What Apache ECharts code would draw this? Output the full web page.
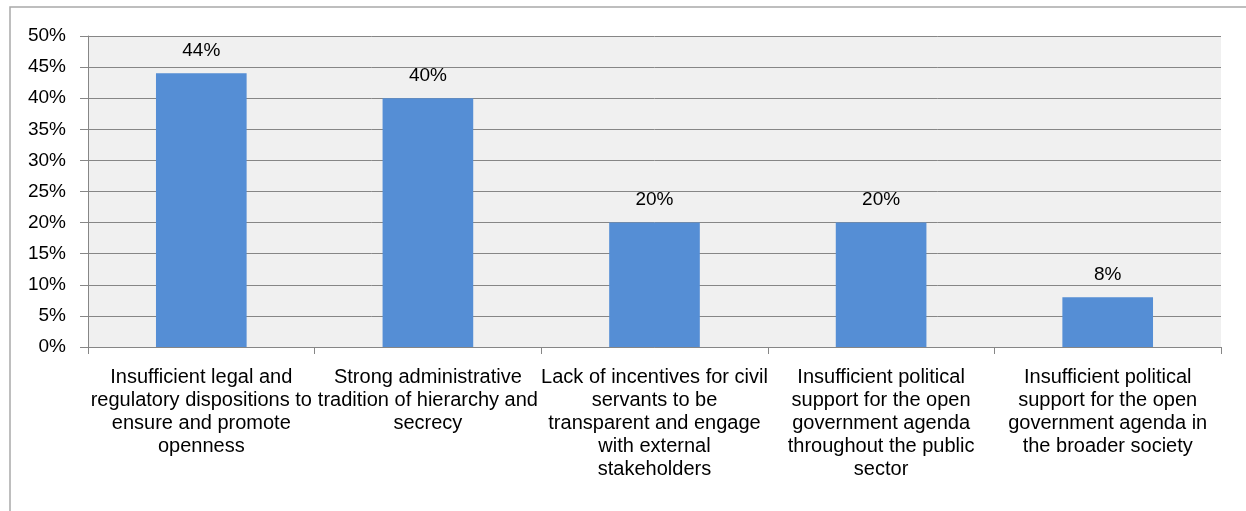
<!DOCTYPE html>
<html>
<head>
<meta charset="utf-8">
<script src="https://cdn.jsdelivr.net/npm/echarts@6/dist/echarts.min.js"></script>
<style>
  html, body { margin: 0; padding: 0; background: #fff; }
  #chart { width: 1246px; height: 511px; }
</style>
</head>
<body>
<div id="chart"></div>
<script>
// Chart data
var categories = [
  'Insufficient legal and\nregulatory dispositions to\nensure and promote\nopenness',
  'Strong administrative\ntradition of hierarchy and\nsecrecy',
  'Lack of incentives for civil\nservants to be\ntransparent and engage\nwith external\nstakeholders',
  'Insufficient political\nsupport for the open\ngovernment agenda\nthroughout the public\nsector',
  'Insufficient political\nsupport for the open\ngovernment agenda in\nthe broader society'
];
var values = [44, 40, 20, 20, 8];
var yTicks = [0, 5, 10, 15, 20, 25, 30, 35, 40, 45, 50];

var dom = document.getElementById('chart');
var chart = echarts.init(dom, null, {renderer: 'canvas'});

var font = '"Liberation Sans", Arial, sans-serif';

var option = {
  animation: false,
  textStyle: {fontFamily: font},
  graphic: [{
    type: 'rect',
    shape: {x: 10, y: 7, width: 1400, height: 700},
    style: {fill: 'none', stroke: '#a9a9a9', lineWidth: 1.5},
    silent: true
  }],
  grid: {
    left: 88, right: 25, top: 36, bottom: 164,
    show: true, backgroundColor: '#f0f0f0', borderWidth: 0
  },
  xAxis: {
    type: 'category',
    data: categories,
    axisLine: {lineStyle: {color: '#868686', width: 1}},
    axisTick: {show: true, length: 7, lineStyle: {color: '#868686'}},
    axisLabel: {
      interval: 0, color: '#000', fontSize: 20, lineHeight: 23,
      margin: 19, fontFamily: font
    }
  },
  yAxis: {
    type: 'value',
    min: yTicks[0], max: yTicks[yTicks.length - 1], interval: 5,
    axisLine: {show: true, lineStyle: {color: '#868686'}},
    axisTick: {show: true, length: 8, lineStyle: {color: '#868686'}},
    splitLine: {lineStyle: {color: '#868686', width: 1}},
    axisLabel: {
      color: '#000', fontSize: 19, margin: 22, fontFamily: font,
      formatter: '{value}%'
    }
  },
  series: [{
    type: 'bar',
    data: values,
    barWidth: '40%',
    itemStyle: {color: '#558ed5'},
    label: {
      show: true, position: 'top', distance: 13,
      color: '#000', fontSize: 19, fontFamily: font,
      formatter: '{c}%'
    }
  }]
};

chart.setOption(option);
</script>
</body>
</html>
